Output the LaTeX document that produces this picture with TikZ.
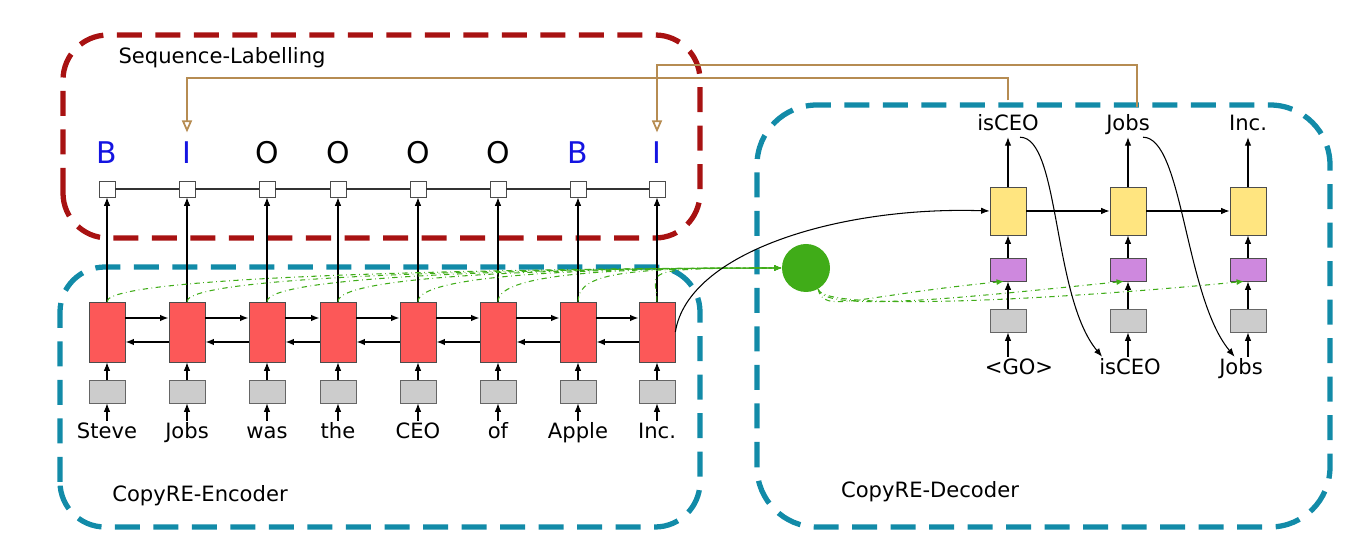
\documentclass[tikz,border=0pt]{standalone}
\usepackage{fontspec}
\setmainfont{DejaVu Sans}
\usetikzlibrary{arrows.meta,positioning,calc}
\definecolor{encred}{RGB}{252,88,88}
\definecolor{embgray}{RGB}{204,204,204}
\definecolor{decyellow}{RGB}{255,229,128}
\definecolor{gatepurple}{RGB}{206,136,222}
\definecolor{attngreen}{RGB}{64,172,24}
\definecolor{regionblue}{RGB}{18,139,168}
\definecolor{regionred}{RGB}{168,18,18}
\definecolor{copybrown}{RGB}{182,140,82}
\definecolor{tagblue}{RGB}{20,20,225}

\begin{document}
\begin{tikzpicture}[
  cell/.style={draw=black!70, fill=encred, minimum width=0.72cm, minimum height=1.2cm, inner sep=0pt},
  dcell/.style={cell, fill=decyellow, minimum height=0.96cm},
  embed/.style={draw=black!60, fill=embgray, minimum width=0.72cm, minimum height=0.46cm, inner sep=0pt},
  gate/.style={embed, draw=black!70, fill=gatepurple},
  tagbox/.style={draw=black!70, fill=white, minimum size=0.32cm, inner sep=0pt},
  word/.style={font=\fontsize{12}{14}\selectfont, text height=9pt, text depth=2.5pt, inner sep=1pt},
  tag/.style={font=\fontsize{17}{20}\selectfont, text height=12.5pt, text depth=0pt, inner sep=1pt},
  region/.style={line width=3pt, dash pattern=on 0.5cm off 0.27cm, rounded corners=0.9cm},
  flow/.style={-{Latex[length=1.7mm,width=1.3mm]}, line width=0.6pt},
  copy/.style={-{Triangle[open,length=2.4mm,width=2mm]}, draw=copybrown, line width=1pt},
  attn/.style={-{Latex[length=1.5mm,width=1.2mm]}, draw=attngreen, dash dot, line width=0.6pt}]
\useasboundingbox (0,0) rectangle (27.44,11.2);

% regions
\draw[region, draw=regionred] (1.26,6.44) rectangle (14.0,10.5);
\draw[region, draw=regionblue] (1.2,0.66) rectangle (14.0,5.86);
\draw[region, draw=regionblue, rounded corners=1.2cm] (15.14,0.66) rectangle (26.6,9.1);
\node[word] (lblseq) at (4.44,10.04) {Sequence-Labelling};
\node[word] (lblenc) at (4.0,1.28) {CopyRE-Encoder};
\node[word] (lbldec) at (18.6,1.36) {CopyRE-Decoder};

% encoder and tagger
\foreach \i/\x/\w/\t/\c in {1/2.14/Steve/B/tagblue, 2/3.74/Jobs/I/tagblue, 3/5.34/was/O/black, 4/6.76/the/O/black,
                             5/8.36/CEO/O/black, 6/9.96/of/O/black, 7/11.56/Apple/B/tagblue, 8/13.14/Inc./I/tagblue}{
  \node[word] (w\i) at (\x,2.54) {\w};
  \node[embed] (e\i) at (\x,3.37) {};
  \node[cell] (r\i) at (\x,4.56) {};
  \node[tagbox] (s\i) at (\x,7.42) {};
  \node[tag, text=\c] (t\i) at (\x,8.14) {\t};
  \draw[flow] (w\i) -- (e\i);
  \draw[flow] (e\i) -- (r\i);
  \draw[flow] (r\i) -- (s\i);
}
\foreach \i [count=\j from 2] in {1,...,7}{
  \draw[flow, line width=0.9pt] ([yshift=2.8mm]r\i.east) -- ([yshift=2.8mm]r\j.west);
  \draw[flow, line width=0.9pt] ([yshift=-2mm]r\j.west) -- ([yshift=-2mm]r\i.east);
  \draw[black!80, line width=0.7pt] (s\i) -- (s\j);
}

% copy gate
\node[circle, fill=attngreen, minimum size=0.96cm, inner sep=0pt] (gc) at (16.12,5.84) {};
\foreach \i in {1,...,8}
  \draw[attn] (r\i.north) .. controls +(0,0.6) and +(-3,0) .. (gc.west);

% decoder
\foreach \i/\x/\o/\bx/\b in {1/20.16/isCEO/20.38/{<GO>}, 2/22.56/Jobs/22.6/isCEO, 3/24.96/Inc./24.82/Jobs}{
  \node[dcell] (d\i) at (\x,6.98) {};
  \node[gate] (p\i) at (\x,5.81) {};
  \node[embed] (g\i) at (\x,4.79) {};
  \node[word] (o\i) at (\x,8.7) {\o};
  \node[word] (b\i) at (\bx,3.82) {\b};
  \draw[flow] (g\i) -- (p\i);
  \draw[flow] (p\i) -- (d\i);
  \draw[flow] (d\i) -- (o\i);
  \draw[flow] (b\i.north -| g\i) -- (g\i);
  \draw[attn] (gc.-60) .. controls +(0.1,-0.5) and +(-3,-0.3) .. ([xshift=-0.8mm]p\i.south);
}
\draw[flow] (d1) -- (d2);
\draw[flow] (d2) -- (d3);
\draw[flow] (r8.east) .. controls +(0.25,1.6) and +(-3,0.1) .. (d1.west);

% copied outputs fed back
\draw[flow] ([xshift=2.4mm]o1.south) .. controls +(0.8,0) and +(-1.0,1.2) .. ([xshift=1mm]b2.north west);
\draw[flow] ([xshift=3mm]o2.south) .. controls +(0.8,0) and +(-1.0,1.2) .. ([xshift=3.5mm]b3.north west);

% copied entities back to tags
\draw[copy] ([yshift=2.5mm]o1.north) |- ([yshift=1.24cm]t2.north) -- ([yshift=1.5mm]t2.north);
\draw[copy] ([xshift=1.8mm,yshift=1.2mm]o2.north) |- ([yshift=1.5cm]t8.north) -- ([yshift=1.5mm]t8.north);
\end{tikzpicture}
\end{document}
